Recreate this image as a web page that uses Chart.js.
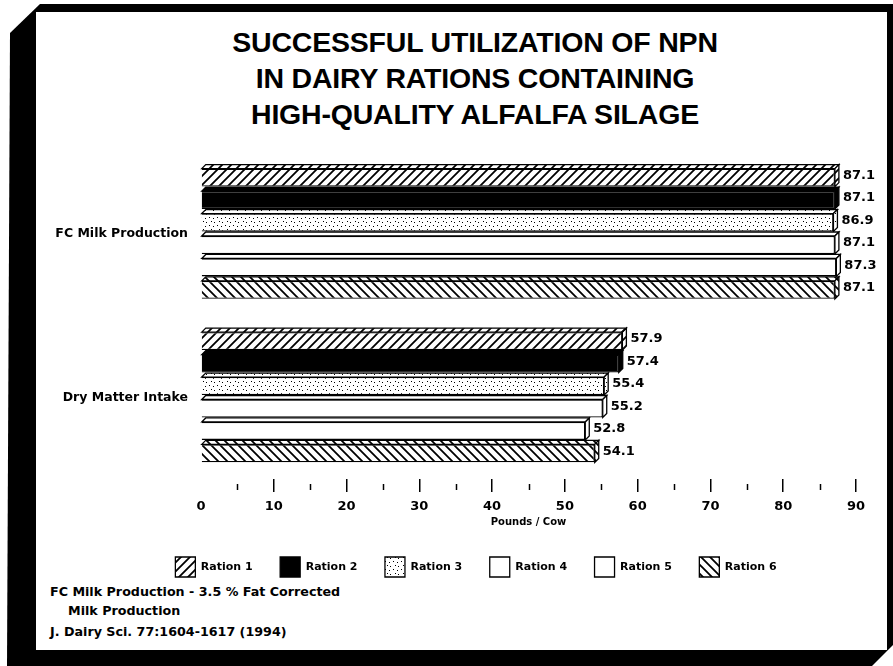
<!DOCTYPE html>
<html>
<head>
<meta charset="utf-8">
<script src="https://cdn.jsdelivr.net/npm/chart.js@4.4.1/dist/chart.umd.min.js"></script>
<style>
  html,body{margin:0;padding:0;background:#fff;}
  body{width:893px;height:666px;position:relative;overflow:hidden;font-family:"DejaVu Sans",sans-serif;}
  #frame{position:absolute;left:0;top:0;width:893px;height:666px;background:#000;
    clip-path:polygon(10px 33px,40px 4px,893px 4px,893px 645px,872px 666px,7px 666px);}
  #panel{position:absolute;left:36px;top:12px;width:851px;height:638px;background:#fff;}
  #title{position:absolute;left:475px;top:24px;transform:translateX(-50%);white-space:nowrap;text-align:center;
    font-family:"Liberation Sans",Arial,sans-serif;font-weight:bold;font-size:28.5px;line-height:36px;color:#000;letter-spacing:-0.2px;}
  .note{position:absolute;font-family:"DejaVu Sans",sans-serif;font-weight:bold;font-size:12.7px;color:#000;white-space:nowrap;}
  #cv{position:absolute;left:0;top:0;}
</style>
</head>
<body>
<div id="frame"></div>
<div id="panel"></div>
<div id="title">SUCCESSFUL UTILIZATION OF NPN<br>IN DAIRY RATIONS CONTAINING<br>HIGH-QUALITY ALFALFA SILAGE</div>
<div class="note" style="left:50px;top:584px;">FC Milk Production - 3.5 % Fat Corrected</div>
<div class="note" style="left:68px;top:603px;">Milk Production</div>
<div class="note" style="left:50px;top:624px;">J. Dairy Sci. 77:1604-1617 (1994)</div>
<canvas id="cv" width="893" height="666"></canvas>
<script>
// ---- data ----
const categories = ["FC Milk Production", "Dry Matter Intake"];
const seriesNames = ["Ration 1", "Ration 2", "Ration 3", "Ration 4", "Ration 5", "Ration 6"];
const ration1 = [87.1, 57.9];
const ration2 = [87.1, 57.4];
const ration3 = [86.9, 55.4];
const ration4 = [87.1, 55.2];
const ration5 = [87.3, 52.8];
const ration6 = [87.1, 54.1];
const xTicks = [0, 10, 20, 30, 40, 50, 60, 70, 80, 90];
const axisTitle = "Pounds / Cow";

const FONT = '"DejaVu Sans", sans-serif';

// ---- fill patterns ----
function makeTile(size, draw){
  const c = document.createElement('canvas'); c.width = c.height = size;
  const g = c.getContext('2d'); g.fillStyle = '#fff'; g.fillRect(0,0,size,size);
  g.strokeStyle = '#000'; g.fillStyle = '#000'; draw(g, size);
  return document.createElement('canvas').getContext('2d').createPattern(c, 'repeat');
}
const pFwd = makeTile(9, (g,s)=>{ g.lineWidth=1.8; g.beginPath();
  g.moveTo(-1,s+1); g.lineTo(s+1,-1); g.moveTo(-2,2); g.lineTo(2,-2); g.moveTo(s-2,s+2); g.lineTo(s+2,s-2); g.stroke(); });
const pBack = makeTile(9, (g,s)=>{ g.lineWidth=1.8; g.beginPath();
  g.moveTo(-1,-1); g.lineTo(s+1,s+1); g.moveTo(s-2,-2); g.lineTo(s+2,2); g.moveTo(-2,s-2); g.lineTo(2,s+2); g.stroke(); });
const pDots = makeTile(8, (g,s)=>{ g.fillRect(1,1,1,1); g.fillRect(5,2,1,1); g.fillRect(3,5,1,1); g.fillRect(6,6,1,1); });
const fills = [pFwd, '#000', pDots, '#fff', '#fff', pBack];
const values = [ration1, ration2, ration3, ration4, ration5, ration6];

const DEPTH = 4;

const minorTicks = {
  id: 'minorTicks',
  afterDraw(chart){
    const sc = chart.scales.x, ctx = chart.ctx, b = chart.chartArea.bottom;
    ctx.save(); ctx.strokeStyle = '#000'; ctx.lineWidth = 1.5;
    for (let i = 0; i < xTicks.length - 1; i++){
      const v = (xTicks[i] + xTicks[i+1]) / 2;
      const px = Math.round(sc.getPixelForValue(v)) + 0.5;
      ctx.beginPath(); ctx.moveTo(px, b + 5); ctx.lineTo(px, b + 11); ctx.stroke();
    }
    ctx.restore();
  }
};

const catLabels = {
  id: 'catLabels',
  afterDraw(chart){
    const sc = chart.scales.y, ctx = chart.ctx;
    ctx.save(); ctx.fillStyle = '#000'; ctx.font = 'bold 12.5px ' + FONT;
    ctx.textAlign = 'right'; ctx.textBaseline = 'middle';
    categories.forEach((c, i) => ctx.fillText(c, chart.chartArea.left - 13, sc.getPixelForValue(i)));
    ctx.restore();
  }
};

const bars3d = {
  id: 'bars3d',
  afterDatasetsDraw(chart){
    const ctx = chart.ctx;
    ctx.save();
    chart.data.datasets.forEach((ds, di) => {
      const meta = chart.getDatasetMeta(di);
      meta.data.forEach((el, i) => {
        const p = el.getProps(['x','y','base','height'], true);
        const top = p.y - p.height/2, bot = p.y + p.height/2, d = DEPTH;
        ctx.fillStyle = ds.backgroundColor; ctx.strokeStyle = '#000'; ctx.lineWidth = 1.3;
        ctx.beginPath(); ctx.moveTo(p.base, top); ctx.lineTo(p.base + d, top - d);
        ctx.lineTo(p.x + d, top - d); ctx.lineTo(p.x, top); ctx.closePath(); ctx.fill(); ctx.stroke();
        ctx.beginPath(); ctx.moveTo(p.x, top); ctx.lineTo(p.x + d, top - d);
        ctx.lineTo(p.x + d, bot - d); ctx.lineTo(p.x, bot); ctx.closePath(); ctx.fill(); ctx.stroke();
        ctx.fillStyle = '#000'; ctx.font = 'bold 13px ' + FONT;
        ctx.textAlign = 'left'; ctx.textBaseline = 'middle';
        ctx.fillText(ds.data[i].toFixed(1), p.x + d + 4, p.y - d/2);
      });
    });
    ctx.restore();
  }
};

Chart.defaults.font.family = FONT;
Chart.defaults.color = '#000';

new Chart(document.getElementById('cv'), {
  type: 'bar',
  data: {
    labels: categories,
    datasets: seriesNames.map((n, k) => ({
      label: n, data: values[k], backgroundColor: fills[k],
      borderColor: '#000', borderWidth: 1.3,
      categoryPercentage: 0.824, barPercentage: 0.8
    }))
  },
  options: {
    indexAxis: 'y',
    responsive: false, animation: false,
    layout: { padding: { left: 96, right: 37, top: 152, bottom: 79 } },
    scales: {
      x: {
        min: 0, max: 90,
        afterBuildTicks(sc){ sc.ticks = xTicks.map(v => ({value: v})); },
        afterFit(sc){ sc.height = 50.5; },
        border: { display: false },
        grid: { drawOnChartArea: false, drawTicks: true, tickLength: 13, lineWidth: 1.5,
          color: ctx => (ctx.tick && ctx.tick.value === 0) ? 'rgba(0,0,0,0)' : '#000' },
        ticks: { padding: 7, font: { size: 13, weight: 'bold' }, maxRotation: 0 },
        title: { display: true, text: axisTitle, font: { size: 10, weight: 'bold' }, padding: { top: 0, bottom: 1.5 } }
      },
      y: {
        afterFit(sc){ sc.width = 105; },
        border: { display: false },
        grid: { display: false },
        ticks: { display: false }
      }
    },
    plugins: {
      legend: {
        position: 'bottom',
        labels: { boxWidth: 20, boxHeight: 20, padding: 27.5, font: { size: 11, weight: 'bold' } }
      },
      tooltip: { enabled: false }
    }
  },
  plugins: [bars3d, minorTicks, catLabels]
});
</script>
</body>
</html>
